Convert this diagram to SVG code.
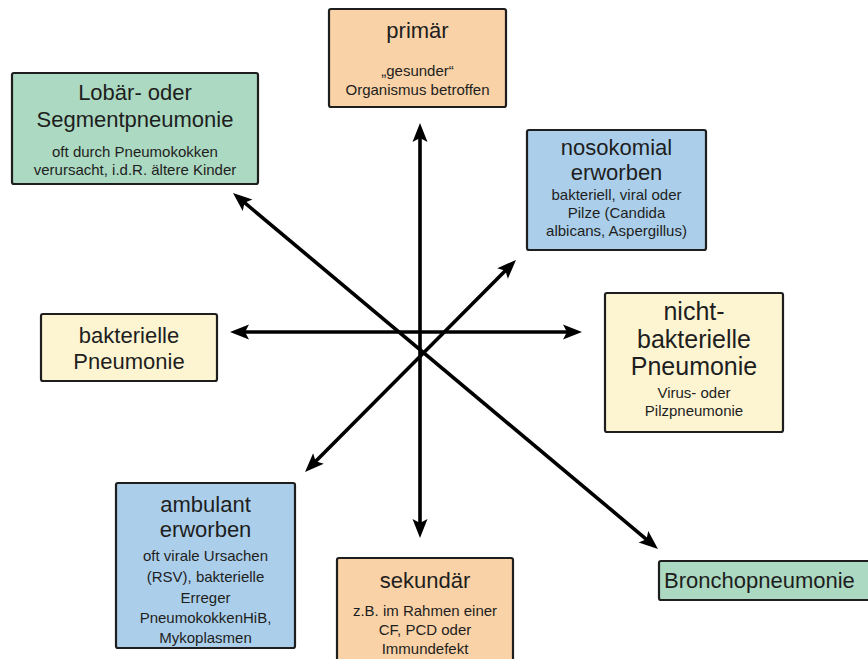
<svg xmlns="http://www.w3.org/2000/svg" width="868" height="659" viewBox="0 0 868 659">
<style>
.box{stroke:#1e1e1e;stroke-width:2.2}
.green{fill:#acd9c1}
.orange{fill:#f9d2a7}
.blue{fill:#abcfea}
.yellow{fill:#fdf5d2}
text{font-family:"Liberation Sans",Arial,sans-serif;fill:#1e1e1e;text-anchor:middle}
.t{font-size:22px}
.s{font-size:15px}
.conn line{stroke:#000;stroke-width:3.6;marker-start:url(#ah);marker-end:url(#ah)}
</style>
<defs>
<marker id="ah" markerUnits="userSpaceOnUse" orient="auto-start-reverse" refX="0" refY="0" markerWidth="30" markerHeight="30" overflow="visible">
<path d="M12,0 L-7,-7.5 L-3,0 L-7,7.5 Z" fill="#000"/>
</marker>
</defs>
<rect width="868" height="659" fill="#fff"/>
<g id="connectors" class="conn">
<line x1="420" y1="135" x2="420" y2="526"/>
<line x1="242" y1="332" x2="570" y2="332"/>
<line x1="242.2" y1="200.7" x2="648.8" y2="541.3"/>
<line x1="313.5" y1="463.5" x2="507.5" y2="268.5"/>
</g>
<g id="lobaer">
<rect class="box green" x="12" y="73" width="246" height="111" rx="2"/>
<text class="t" x="135" y="100">Lobär- oder</text>
<text class="t" x="135" y="127">Segmentpneumonie</text>
<text class="s" x="135" y="157">oft durch Pneumokokken</text>
<text class="s" x="135" y="175">verursacht, i.d.R. ältere Kinder</text>
</g>
<g id="primaer">
<rect class="box orange" x="329" y="9" width="177" height="98" rx="2"/>
<text class="t" x="417.5" y="38">primär</text>
<text class="s" x="417.5" y="76">„gesunder“</text>
<text class="s" x="417.5" y="95">Organismus betroffen</text>
</g>
<g id="nosokomial">
<rect class="box blue" x="527" y="130" width="179" height="120" rx="2"/>
<text class="t" x="616.5" y="155">nosokomial</text>
<text class="t" x="616.5" y="180">erworben</text>
<text class="s" x="616.5" y="200">bakteriell, viral oder</text>
<text class="s" x="616.5" y="218">Pilze (Candida</text>
<text class="s" x="616.5" y="236">albicans, Aspergillus)</text>
</g>
<g id="nichtbakterielle">
<rect class="box yellow" x="605" y="293" width="178" height="139" rx="2"/>
<text x="694" y="320" style="font-size:25px">nicht-</text>
<text x="694" y="348" style="font-size:25px">bakterielle</text>
<text x="694" y="375" style="font-size:25px">Pneumonie</text>
<text class="s" x="694" y="398">Virus- oder</text>
<text class="s" x="694" y="416">Pilzpneumonie</text>
</g>
<g id="bakterielle">
<rect class="box yellow" x="41" y="314" width="176" height="67" rx="2"/>
<text class="t" x="129" y="343">bakterielle</text>
<text class="t" x="129" y="369">Pneumonie</text>
</g>
<g id="ambulant">
<rect class="box blue" x="116" y="483" width="179" height="165" rx="2"/>
<text class="t" x="205.5" y="512">ambulant</text>
<text class="t" x="205.5" y="537">erworben</text>
<text class="s" x="205.5" y="561">oft virale Ursachen</text>
<text class="s" x="205.5" y="582">(RSV), bakterielle</text>
<text class="s" x="205.5" y="603">Erreger</text>
<text class="s" x="205.5" y="623">PneumokokkenHiB,</text>
<text class="s" x="205.5" y="643">Mykoplasmen</text>
</g>
<g id="sekundaer">
<rect class="box orange" x="337" y="558" width="176" height="110" rx="2"/>
<text class="t" x="425" y="588">sekundär</text>
<text class="s" x="425" y="616">z.B. im Rahmen einer</text>
<text class="s" x="425" y="635">CF, PCD oder</text>
<text class="s" x="425" y="654">Immundefekt</text>
</g>
<g id="bronchopneumonie">
<rect class="box green" x="659" y="561" width="220" height="39" rx="2"/>
<text class="t" x="664" y="588" style="text-anchor:start">Bronchopneumonie</text>
</g>
</svg>
